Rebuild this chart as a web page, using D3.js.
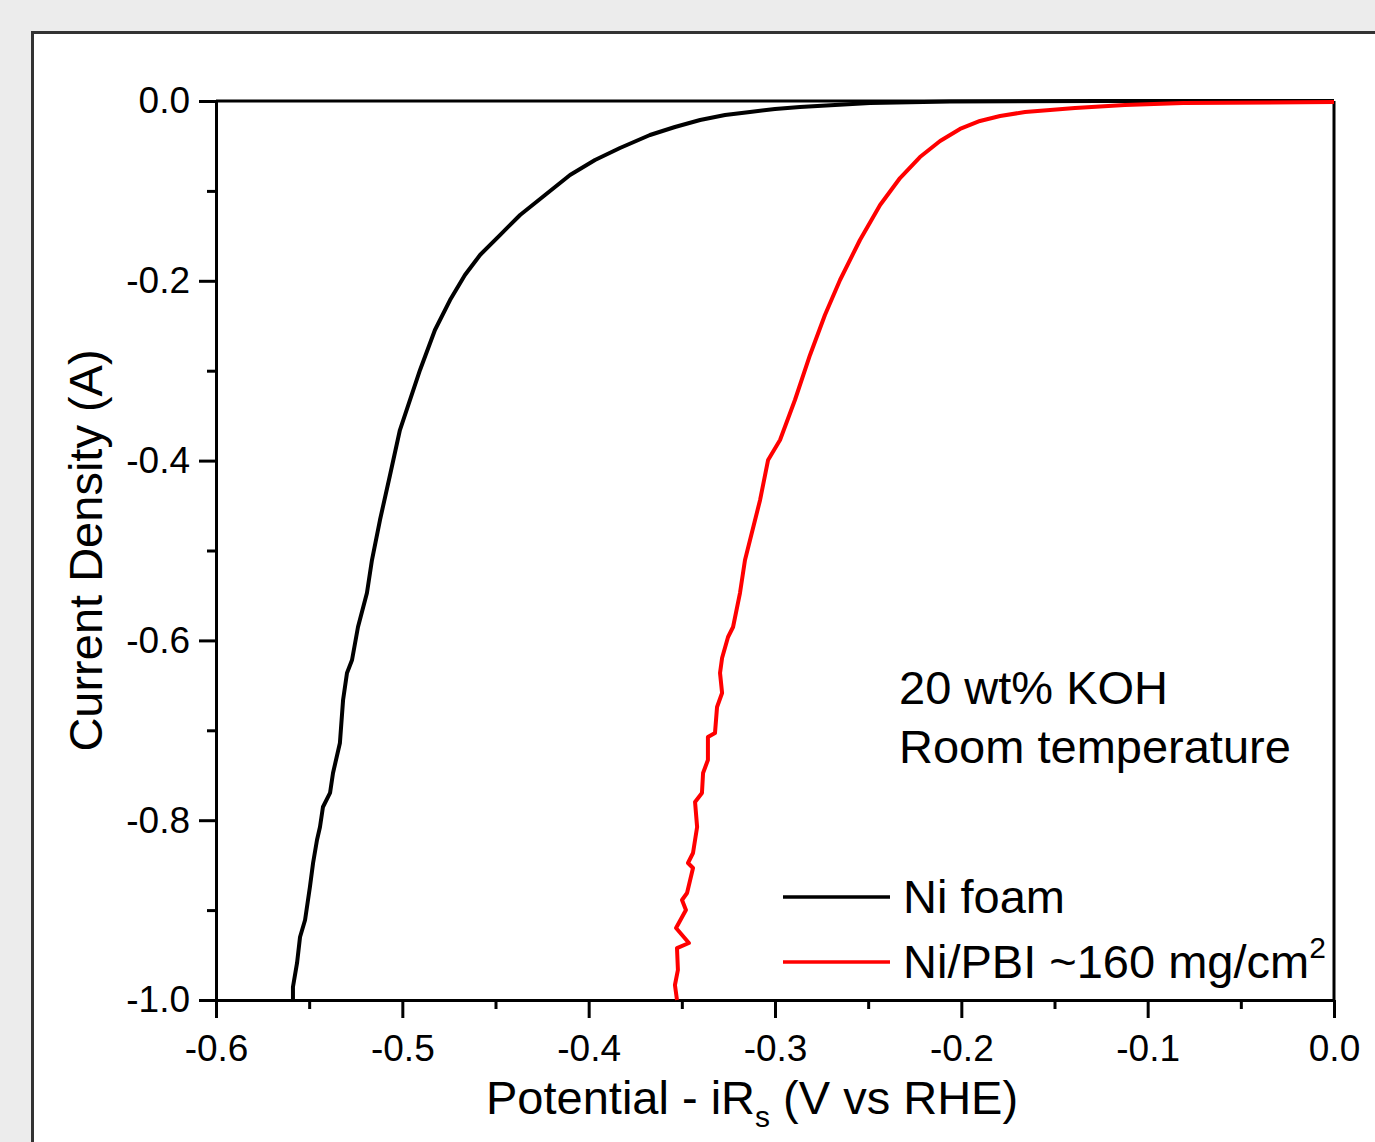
<!DOCTYPE html>
<html>
<head>
<meta charset="utf-8">
<script src="https://cdn.jsdelivr.net/npm/d3@7"></script>
<style>
    body { margin: 0; background: #ececec; }
    text { font-family: "Liberation Sans", Arial, sans-serif; fill: #000; }
</style>
</head>
<body>
<div class="svgContainer"></div>
<script>
// Statics
// Ni foam curve: potential (V vs RHE) and current density (A)
var NI_FOAM_V = [-0.5587, -0.5587, -0.5565, -0.5549, -0.5522, -0.5496, -0.5479, -0.5458, -0.5442, -0.5426,
    -0.5388, -0.5372, -0.5335, -0.5318, -0.5297, -0.5270, -0.5238, -0.5190, -0.5163, -0.5120,
    -0.5066, -0.5013, -0.4905, -0.4825, -0.4744, -0.4664, -0.4583, -0.4476, -0.4368, -0.4234,
    -0.4100, -0.3966, -0.3832, -0.3671, -0.3537, -0.3402, -0.3268, -0.3134, -0.3000, -0.2866,
    -0.2678, -0.2490, -0.2061, -0.1256, 0.0];
var NI_FOAM_J = [-1.000, -0.9855, -0.9588, -0.9299, -0.9110, -0.8743, -0.8476, -0.8220, -0.8076, -0.7853,
    -0.7697, -0.7475, -0.7141, -0.6663, -0.6363, -0.6218, -0.5851, -0.5473, -0.5106, -0.4661,
    -0.4160, -0.3660, -0.2992, -0.2547, -0.2214, -0.1935, -0.1713, -0.1491, -0.1268, -0.1046,
    -0.0823, -0.0656, -0.0523, -0.0378, -0.0289, -0.0211, -0.0156, -0.0122, -0.0089, -0.0067,
    -0.0044, -0.0022, -0.0006, 0.0, 0.0];

// Ni/PBI curve
var NI_PBI_V = [-0.3526, -0.3537, -0.3521, -0.3526, -0.3462, -0.3531, -0.3478, -0.3499, -0.3472, -0.3440,
    -0.3467, -0.3440, -0.3418, -0.3429, -0.3392, -0.3386, -0.3360, -0.3360, -0.3322, -0.3311,
    -0.3284, -0.3295, -0.3284, -0.3252, -0.3225, -0.3188, -0.3161, -0.3134, -0.3080, -0.3037,
    -0.2973, -0.2893, -0.2812, -0.2732, -0.2651, -0.2544, -0.2436, -0.2329, -0.2222, -0.2114,
    -0.2007, -0.1900, -0.1792, -0.1658, -0.1524, -0.1390, -0.1256, -0.1122, -0.0809, 0.0];
var NI_PBI_J = [-1.000, -0.9833, -0.9666, -0.9422, -0.9366, -0.9199, -0.8999, -0.8888, -0.8810, -0.8532,
    -0.8476, -0.8365, -0.8076, -0.7798, -0.7697, -0.7475, -0.7330, -0.7075, -0.7030, -0.6741,
    -0.6585, -0.6363, -0.6196, -0.5962, -0.5851, -0.5473, -0.5106, -0.4883, -0.4438, -0.3993,
    -0.3771, -0.3326, -0.2825, -0.2380, -0.1991, -0.1546, -0.1157, -0.0857, -0.0623, -0.0445,
    -0.0311, -0.0222, -0.0167, -0.0122, -0.0100, -0.0078, -0.0061, -0.0044, -0.0022, -0.0011];

var X_TICKS = [-0.6, -0.5, -0.4, -0.3, -0.2, -0.1, 0.0];
var X_MINOR = [-0.55, -0.45, -0.35, -0.25, -0.15, -0.05];
var Y_TICKS = [0.0, -0.2, -0.4, -0.6, -0.8, -1.0];
var Y_MINOR = [-0.1, -0.3, -0.5, -0.7, -0.9];

var SERIES_NAMES = ["Ni foam", "Ni/PBI ~160 mg/cm"];
var SERIES_COLORS = ["#000000", "#ff0000"];
var NOTE_LINES = ["20 wt% KOH", "Room temperature"];
// End statics

//Define Margin
var margin = {left: 216, right: 41, top: 101, bottom: 142},
    width = 1375 - margin.left - margin.right,
    height = 1142 - margin.top - margin.bottom;

//Define SVG
var root = d3.select(".svgContainer").append("svg")
    .attr("width", 1375)
    .attr("height", 1142);

// Grey window with the white graph page
root.append("rect")
    .attr("width", 1375).attr("height", 1142)
    .attr("fill", "#ececec");
root.append("rect")
    .attr("x", 32.5).attr("y", 32.5)
    .attr("width", 1400).attr("height", 1200)
    .attr("fill", "#ffffff")
    .attr("stroke", "#333333")
    .attr("stroke-width", 3);

var svg = root.append("g")
    .attr("transform", "translate(" + margin.left + "," + margin.top + ")");

// Define the scales
var x = d3.scaleLinear().domain([-0.6, 0.0]).range([0, width]);
var y = d3.scaleLinear().domain([-1.0, 0.0]).range([height, 0]);

var TICK_FONT = 37;
// plain hyphen for the minus sign, like the original
var fmt = function(d) { return (Math.abs(d) < 1e-9 ? 0 : d).toFixed(1); };

// minor ticks first, majors on top
svg.append("g")
    .attr("transform", "translate(0," + height + ")")
    .call(d3.axisBottom(x).tickValues(X_MINOR).tickSizeInner(9).tickSizeOuter(0).tickFormat(""));
svg.append("g")
    .attr("class", "x-axis")
    .attr("transform", "translate(0," + height + ")")
    .call(d3.axisBottom(x).tickValues(X_TICKS).tickSizeInner(18).tickSizeOuter(0).tickPadding(17)
        .tickFormat(fmt));

svg.append("g")
    .call(d3.axisLeft(y).tickValues(Y_MINOR).tickSizeInner(9).tickSizeOuter(0).tickFormat(""));
svg.append("g")
    .attr("class", "y-axis")
    .call(d3.axisLeft(y).tickValues(Y_TICKS).tickSizeInner(17).tickSizeOuter(0).tickPadding(9)
        .tickFormat(fmt));

svg.selectAll(".domain").attr("stroke", "#000").attr("stroke-width", 3);
svg.selectAll(".tick line").attr("stroke", "#000").attr("stroke-width", 3);
svg.selectAll(".tick text")
    .style("font-size", TICK_FONT + "px")
    .style("font-family", "'Liberation Sans', Arial, sans-serif")
    .attr("fill", "#000");

// top and right frame lines
svg.append("line")
    .attr("x1", x(-0.6)).attr("x2", x(0.0))
    .attr("y1", y(0.0)).attr("y2", y(0.0))
    .attr("stroke", "#000").attr("stroke-width", 3);
svg.append("line")
    .attr("x1", x(0.0)).attr("x2", x(0.0))
    .attr("y1", y(0.0)).attr("y2", y(-1.0))
    .attr("stroke", "#000").attr("stroke-width", 3);

// Curves
var line = d3.line()
    .x(function(d) { return x(d[0]); })
    .y(function(d) { return y(d[1]); });

var curves = [d3.zip(NI_FOAM_V, NI_FOAM_J), d3.zip(NI_PBI_V, NI_PBI_J)];

svg.selectAll(".curve")
    .data(curves)
    .enter().append("path")
    .attr("class", "curve")
    .attr("d", line)
    .attr("fill", "none")
    .attr("stroke", function(d, i) { return SERIES_COLORS[i]; })
    .attr("stroke-width", 4)
    .attr("stroke-linejoin", "round");

// Axis titles
var TITLE_FONT = 47;
var xTitle = root.append("text")
    .attr("x", 486).attr("y", 1114)
    .style("font-size", TITLE_FONT + "px");
xTitle.append("tspan").text("Potential - iR");
xTitle.append("tspan").attr("dy", 13).style("font-size", "30px").text("s");
xTitle.append("tspan").attr("dy", -13).text(" (V vs RHE)");

root.append("text")
    .attr("transform", "translate(102," + (margin.top + height / 2) + ") rotate(-90)")
    .attr("text-anchor", "middle")
    .style("font-size", TITLE_FONT + "px")
    .text("Current Density (A)");

// Annotation
root.selectAll(".note")
    .data(NOTE_LINES)
    .enter().append("text")
    .attr("class", "note")
    .attr("x", 899)
    .attr("y", function(d, i) { return 704 + i * 59; })
    .style("font-size", TITLE_FONT + "px")
    .text(function(d) { return d; });

// Legend
var legend = root.append("g").attr("transform", "translate(783, 897)");
SERIES_NAMES.forEach(function(name, i) {
    var row = legend.append("g").attr("transform", "translate(0," + (i * 65) + ")");
    row.append("line")
        .attr("x1", 0).attr("x2", 107)
        .attr("stroke", SERIES_COLORS[i])
        .attr("stroke-width", 3.5);
    var t = row.append("text")
        .attr("x", 120).attr("y", 16)
        .style("font-size", TITLE_FONT + "px");
    t.append("tspan").text(name);
    if (i == 1) {
        t.append("tspan").attr("dy", -20).style("font-size", "30px").text("2");
    }
});
</script>
</body>
</html>
